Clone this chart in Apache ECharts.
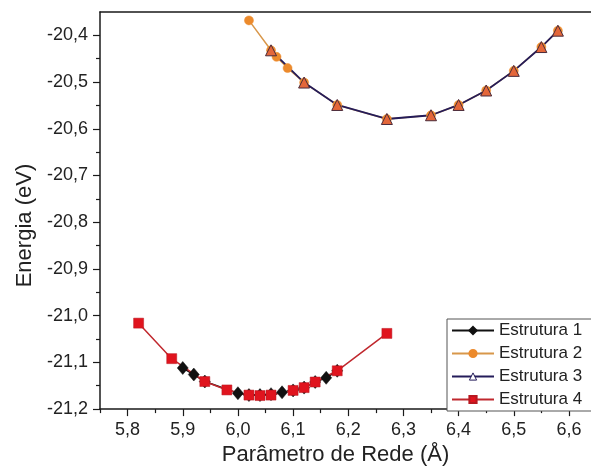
<!DOCTYPE html>
<html><head><meta charset="utf-8">
<script src="https://cdn.jsdelivr.net/npm/echarts@6/dist/echarts.min.js"></script>
<style>html,body{margin:0;padding:0;background:#fff}#c{width:591px;height:471px}</style>
</head><body><div id="c"></div>
<script>
const xMajor = [5.8, 5.9, 6.0, 6.1, 6.2, 6.3, 6.4, 6.5, 6.6];
const xMinor = [5.75, 5.85, 5.95, 6.05, 6.15, 6.25, 6.35, 6.45, 6.55];
const yMajor = [-21.2, -21.1, -21.0, -20.9, -20.8, -20.7, -20.6, -20.5, -20.4];
const yMinor = [-21.15, -21.05, -20.95, -20.85, -20.75, -20.65, -20.55, -20.45];

const names = ['Estrutura 1', 'Estrutura 2', 'Estrutura 3', 'Estrutura 4'];

const s1x = [5.90, 5.92, 5.94, 6.00, 6.02, 6.04, 6.06, 6.08, 6.10, 6.12, 6.14, 6.16, 6.18];
const s1y = [-21.112, -21.126, -21.141, -21.166, -21.170, -21.170, -21.168, -21.164, -21.160, -21.154, -21.142, -21.133, -21.118];

const s2x = [6.02, 6.06, 6.07, 6.09, 6.12, 6.18, 6.27, 6.35, 6.40, 6.45, 6.50, 6.55, 6.58];
const s2y = [-20.368, -20.432, -20.446, -20.470, -20.501, -20.549, -20.579, -20.571, -20.549, -20.518, -20.476, -20.425, -20.390];

const s3x = [6.06, 6.12, 6.18, 6.27, 6.35, 6.40, 6.45, 6.50, 6.55, 6.58];
const s3y = [-20.432, -20.501, -20.549, -20.579, -20.571, -20.549, -20.518, -20.476, -20.425, -20.390];

const s4x = [5.82, 5.88, 5.94, 5.98, 6.02, 6.04, 6.06, 6.10, 6.12, 6.14, 6.18, 6.27];
const s4y = [-21.016, -21.092, -21.141, -21.159, -21.170, -21.171, -21.170, -21.160, -21.154, -21.142, -21.118, -21.038];

const zip = (a, b) => a.map((v, i) => [v, b[i]]);
const fmt = v => Number(v).toFixed(1).replace('.', ',');
const FONT = '"Liberation Sans", Arial, sans-serif';
const AX = '#1a1a1a';

const chart = echarts.init(document.getElementById('c'), null, {renderer: 'canvas'});
chart.setOption({
  animation: false,
  backgroundColor: '#fff',
  textStyle: {fontFamily: FONT},
  grid: {left: 100, top: 12, right: 0, bottom: 56},
  legend: {
    orient: 'vertical', left: 447, top: 319, z: 10,
    itemWidth: 42, itemHeight: 9, itemGap: 6,
    padding: [3, 40, 3, 4],
    borderColor: '#555', borderWidth: 1, backgroundColor: '#fff',
    textStyle: {fontSize: 17, color: '#222', fontFamily: FONT},
    data: [
      {name: names[0]},
      {name: names[1]},
      {name: names[2], itemStyle: {color: '#ffffff', borderColor: '#241c5a', borderWidth: 1}},
      {name: names[3]}
    ]
  },
  xAxis: [
    {
      type: 'value', min: 5.75, max: 6.64, position: 'bottom',
      name: 'Parâmetro de Rede (Å)', nameLocation: 'middle', nameGap: 31,
      nameTextStyle: {fontSize: 22, color: '#222', fontFamily: FONT, padding: [0, 20, 0, 0]},
      axisLine: {show: true, onZero: false, lineStyle: {color: AX, width: 1.5}},
      axisTick: {show: true, inside: false, length: 7, customValues: xMajor, lineStyle: {color: AX, width: 1.2}},
      axisLabel: {show: true, customValues: xMajor, formatter: fmt, fontSize: 18, color: '#222', margin: 12, fontFamily: FONT},
      splitLine: {show: false}
    },
    {
      type: 'value', min: 5.75, max: 6.64, position: 'bottom',
      axisLine: {show: false, onZero: false},
      axisTick: {show: true, inside: false, length: 4, customValues: xMinor, lineStyle: {color: AX, width: 1.2}},
      axisLabel: {show: false},
      splitLine: {show: false}
    },
    {
      type: 'value', min: 5.75, max: 6.64, position: 'top',
      axisLine: {show: true, onZero: false, lineStyle: {color: AX, width: 1.5}},
      axisTick: {show: false}, axisLabel: {show: false}, splitLine: {show: false}
    }
  ],
  yAxis: [
    {
      type: 'value', min: -21.2, max: -20.35, position: 'left',
      name: 'Energia (eV)', nameLocation: 'middle', nameGap: 64, nameRotate: 90,
      nameTextStyle: {fontSize: 22, color: '#222', fontFamily: FONT, padding: [0, 30, 0, 0]},
      axisLine: {show: true, onZero: false, lineStyle: {color: AX, width: 1.5}},
      axisTick: {show: true, inside: false, length: 7, customValues: yMajor, lineStyle: {color: AX, width: 1.2}},
      axisLabel: {show: true, customValues: yMajor, formatter: fmt, fontSize: 18, color: '#222', margin: 12, fontFamily: FONT},
      splitLine: {show: false}
    },
    {
      type: 'value', min: -21.2, max: -20.35, position: 'left',
      axisLine: {show: false, onZero: false},
      axisTick: {show: true, inside: false, length: 4, customValues: yMinor, lineStyle: {color: AX, width: 1.2}},
      axisLabel: {show: false},
      splitLine: {show: false}
    }
  ],
  series: [
    {
      name: names[0], type: 'line', xAxisIndex: 0, yAxisIndex: 0,
      data: zip(s1x, s1y), symbol: 'diamond', symbolSize: [11, 13],
      lineStyle: {color: '#111', width: 1.5},
      itemStyle: {color: '#111', borderColor: '#111', borderWidth: 0.5}
    },
    {
      name: names[1], type: 'line', xAxisIndex: 0, yAxisIndex: 0,
      data: zip(s2x, s2y), symbol: 'circle', symbolSize: 9,
      lineStyle: {color: '#d8974a', width: 1.5},
      itemStyle: {color: '#ec8a2c', borderColor: '#ec8a2c', borderWidth: 0.5}
    },
    {
      name: names[2], type: 'line', xAxisIndex: 0, yAxisIndex: 0,
      data: zip(s3x, s3y), symbol: 'triangle', symbolSize: 11,
      lineStyle: {color: '#241c5a', width: 1.8},
      itemStyle: {color: '#e4673a', borderColor: '#4a2a3a', borderWidth: 1}
    },
    {
      name: names[3], type: 'line', xAxisIndex: 0, yAxisIndex: 0,
      data: zip(s4x, s4y), symbol: 'rect', symbolSize: 10,
      lineStyle: {color: '#c0282e', width: 1.5},
      itemStyle: {color: '#e0141e', borderColor: '#b81820', borderWidth: 0.5}
    }
  ]
});
</script></body></html>
